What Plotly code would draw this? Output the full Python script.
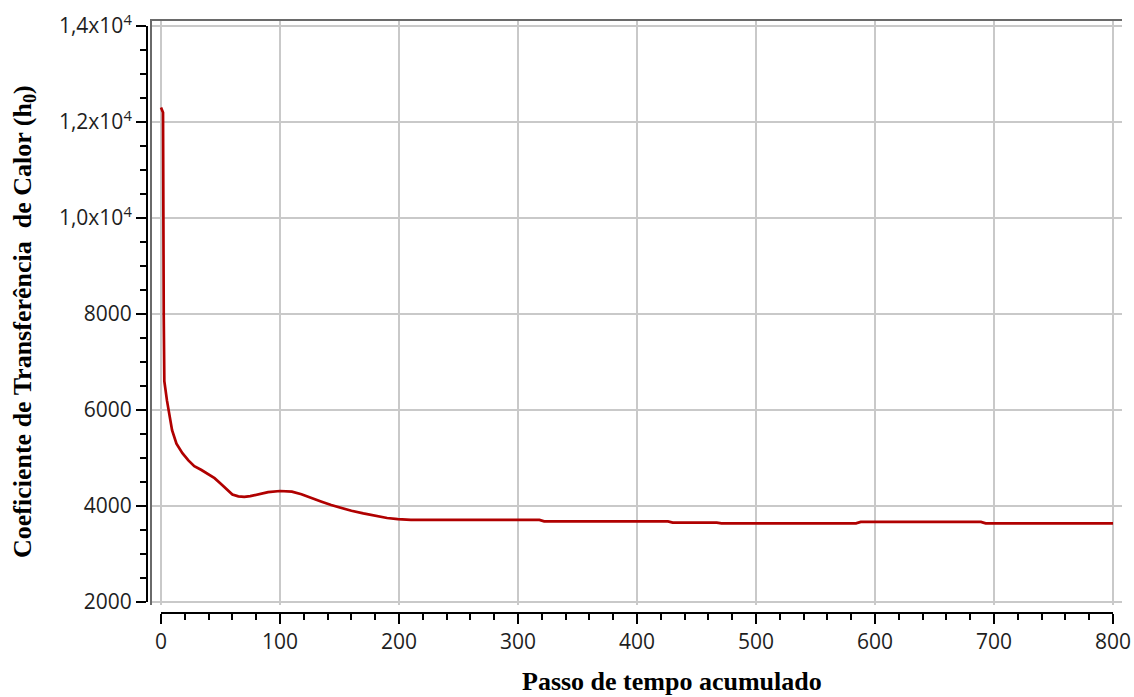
import plotly.graph_objects as go

# ---- data ----
passo = [0, 1, 1.7, 2.3, 2.8, 5, 9.3, 13, 18, 23, 28, 34, 39, 45, 50, 55, 60, 65, 70, 75,
         81, 90, 100, 110, 118, 127, 135, 143, 151, 160, 170, 181, 190, 199, 210,
         318, 322, 426, 430, 467, 471, 584, 588, 689, 693, 800]
h0 = [12300, 12250, 12200, 7950, 6600, 6200, 5580, 5300, 5100, 4950, 4830, 4750, 4670, 4580,
      4470, 4350, 4240, 4200, 4190, 4205, 4240, 4290, 4313, 4300, 4245, 4170, 4090, 4020,
      3960, 3900, 3845, 3790, 3750, 3725, 3712, 3710, 3680, 3680, 3655, 3655, 3640, 3640,
      3670, 3670, 3640, 3640]

x_ticks = [0, 100, 200, 300, 400, 500, 600, 700, 800]
y_ticks = [2000, 4000, 6000, 8000, 10000, 12000, 14000]
y_ticktext = ["2000", "4000", "6000", "8000", "1,0x10<sup>4</sup>", "1,2x10<sup>4</sup>",
              "1,4x10<sup>4</sup>"]

x_title = "Passo de tempo acumulado"
y_title = "Coeficiente de Transferência\u00a0 de Calor (h<sub>0</sub>)"

W, H = 1134, 697

def fx(px):
    return px / W

def fy(py):
    return 1 - py / H

# pixel geometry
gx0, gx1 = 152, 1122   # frame (grid) area
gy0, gy1 = 21, 605
ax0, ax1 = 161, 1113   # x axis 0..800
ay0, ay1 = 26, 602     # y axis 14000..2000

xpu = (ax1 - ax0) / 800.0
ypu = (ay1 - ay0) / 12000.0
xr = [0 - (ax0 - gx0) / xpu, 800 + (gx1 - ax1) / xpu]
yr = [2000 - (gy1 - ay1) / ypu, 14000 + (ay0 - gy0) / ypu]

fig = go.Figure()
fig.add_trace(go.Scatter(x=[], y=[], mode="lines", showlegend=False,
                         hoverinfo="skip", xaxis="x2", yaxis="y2"))
fig.add_trace(go.Scatter(x=passo, y=h0, mode="lines",
                         line=dict(color="#b00000", width=2.7),
                         showlegend=False, xaxis="x", yaxis="y"))

tickfont = dict(family="Open Sans", size=21, color="#1e1e1e")

fig.update_layout(
    template="none",
    width=W, height=H,
    margin=dict(l=0, r=0, t=0, b=0, autoexpand=False),
    paper_bgcolor="white", plot_bgcolor="rgba(0,0,0,0)",
    xaxis=dict(domain=[fx(gx0), fx(gx1)], range=xr, anchor="y", side="top",
               showline=True, linecolor="#6a6a6a", linewidth=2,
               showgrid=True, gridcolor="#c9c9c9", gridwidth=1.5,
               tickmode="array", tickvals=x_ticks, showticklabels=False, ticks="",
               zeroline=False, fixedrange=True, automargin=False),
    yaxis=dict(domain=[fy(gy1), fy(gy0)], range=yr, anchor="x", side="left",
               showline=True, linecolor="#6a6a6a", linewidth=2,
               showgrid=True, gridcolor="#c9c9c9", gridwidth=1.5,
               tickmode="array", tickvals=y_ticks, showticklabels=False, ticks="",
               zeroline=False, fixedrange=True, automargin=False),
    xaxis2=dict(domain=[fx(ax0), fx(ax1)], range=[0, 800], anchor="free",
                position=fy(613), side="bottom",
                showline=True, linecolor="black", linewidth=2,
                showgrid=False, zeroline=False,
                tickmode="array", tickvals=x_ticks,
                ticks="outside", ticklen=10, tickwidth=2, tickcolor="black",
                minor=dict(dtick=20, tick0=0, ticks="outside", ticklen=6, tickwidth=2,
                           tickcolor="black", showgrid=False),
                tickfont=tickfont, fixedrange=True, automargin=False),
    yaxis2=dict(domain=[fy(ay1), fy(ay0)], range=[2000, 14000], anchor="free",
                position=fx(147), side="left",
                showline=True, linecolor="black", linewidth=2,
                showgrid=False, zeroline=False,
                tickmode="array", tickvals=y_ticks, ticktext=y_ticktext,
                ticks="outside", ticklen=10, tickwidth=2, tickcolor="black",
                minor=dict(dtick=500, tick0=2000, ticks="outside", ticklen=6, tickwidth=2,
                           tickcolor="black", showgrid=False),
                tickfont=tickfont, fixedrange=True, automargin=False),
    annotations=[
        dict(text=x_title, xref="paper", yref="paper", x=fx(672), y=fy(681),
             xanchor="center", yanchor="middle", showarrow=False,
             font=dict(family="Liberation Serif", size=26, color="black", weight="bold")),
        dict(text=y_title, xref="paper", yref="paper", x=fx(24), y=fy(322),
             xanchor="center", yanchor="middle", showarrow=False, textangle=-90,
             font=dict(family="Liberation Serif", size=26, color="black", weight="bold")),
    ],
)

fig.write_html("out.html")
